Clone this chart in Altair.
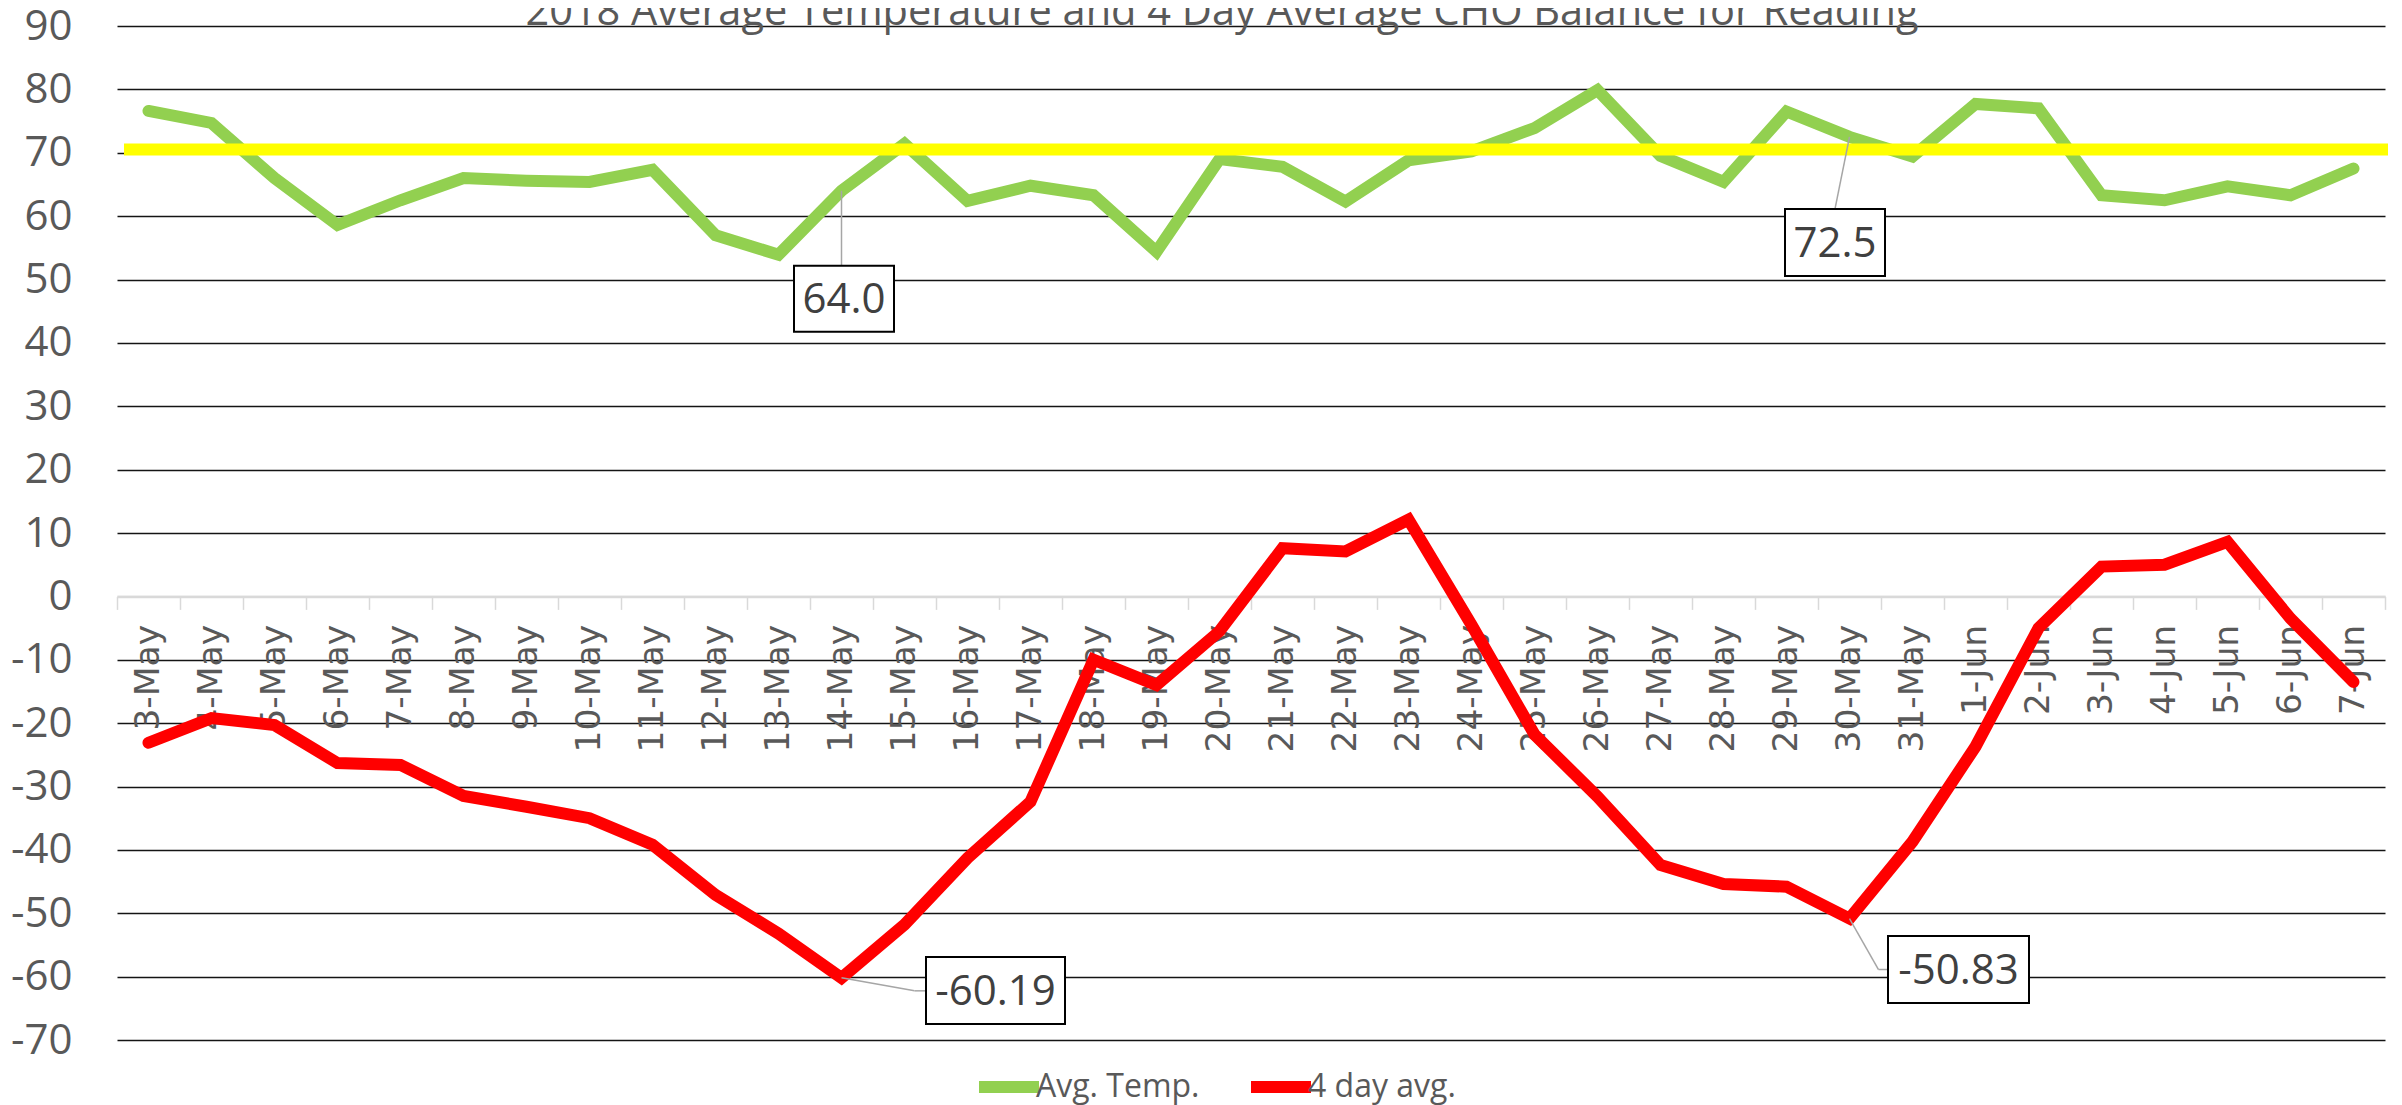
import json
import altair as alt
import pandas as pd

categories = ["3-May", "4-May", "5-May", "6-May", "7-May", "8-May", "9-May", "10-May",
              "11-May", "12-May", "13-May", "14-May", "15-May", "16-May", "17-May", "18-May",
              "19-May", "20-May", "21-May", "22-May", "23-May", "24-May", "25-May", "26-May",
              "27-May", "28-May", "29-May", "30-May", "31-May", "1-Jun", "2-Jun", "3-Jun",
              "4-Jun", "5-Jun", "6-Jun", "7-Jun"]
avg_temp = [76.6, 74.7, 66.0, 58.6, 62.5, 66.0, 65.6, 65.4, 67.3, 57.0, 53.9, 64.0,
            71.4, 62.4, 64.8, 63.3, 54.4, 69.0, 67.8, 62.3, 68.8, 70.2, 73.9, 79.9,
            69.5, 65.4, 76.5, 72.5, 69.4, 77.7, 77.0, 63.3, 62.5, 64.7, 63.3, 67.5]
cho_4day = [-23.1, -19.2, -20.3, -26.3, -26.6, -31.5, -33.2, -35.0, -39.2, -47.1, -53.2, -60.19,
            -51.8, -41.3, -32.4, -10.0, -14.0, -5.5, 7.6, 7.1, 12.1, -4.5, -21.8, -31.6,
            -42.4, -45.4, -45.8, -50.83, -38.7, -23.7, -5.0, 4.7, 5.0, 8.6, -3.5, -13.5]
series_names = ["Avg. Temp.", "4 day avg."]
series_colors = ["#92D050", "#FF0000"]
reference_level = 70.5
y_ticks = list(range(-70, 91, 10))
title_text = "2018 Average Temperature and 4 Day Average CHO Balance for Reading"

ann_labels = ["64.0", "72.5", "-60.19", "-50.83"]
ann_index = [11, 27, 11, 27]
ann_values = [64.0, 72.5, -60.19, -50.83]

# ---- layout / style (pixels) ----
W, H = 2268, 1014
n = len(categories)
step = W / n
ann_style = [
    {"box": (2.5, 108, 100, 66), "leaders": [((0, 0), (0, 75))]},
    {"box": (-14.5, 105.6, 100, 67), "leaders": [((0, 0), (-14.5, 72))]},
    {"box": (154, 12.7, 139, 67), "leaders": [((0, 0), (73, 13)), ((73, 13), (84.5, 13))]},
    {"box": (109, 51, 141, 67), "leaders": [((0, 0), (29, 51)), ((29, 51), (38.5, 51))]},
]
FONT = "Open Sans"
GREY = "#595959"

rows = []
for i, c in enumerate(categories):
    rows.append({"i": i, "date": c, "series": series_names[0], "value": avg_temp[i]})
for i, c in enumerate(categories):
    rows.append({"i": i, "date": c, "series": series_names[1], "value": cho_4day[i]})
df = pd.DataFrame(rows)

x_scale = alt.Scale(domain=[-0.5, n - 0.5], nice=False, zero=False)
y_scale = alt.Scale(domain=[min(y_ticks), max(y_ticks)], nice=False, zero=False)

boundaries = [k - 0.5 for k in range(n + 1)]
label_expr = json.dumps(categories) + "[round(datum.value + 0.5)] || ''"
y_zero_px = H * max(y_ticks) / (max(y_ticks) - min(y_ticks))

x_axis = alt.Axis(
    values=boundaries, labelExpr=label_expr, labelOffset=step / 2, labelAngle=270,
    labelFont="DejaVu Sans", labelFontSize=34.5, labelColor=GREY, labelPadding=15,
    labelOverlap=False, labelBound=False, labelFlush=False,
    domainColor="#D9D9D9", domainWidth=2.5, tickColor="#D9D9D9", tickWidth=1.5,
    tickSize=13, grid=False, offset=-(H - y_zero_px), title=None,
)
y_axis = alt.Axis(
    values=y_ticks, labelExpr="datum.value + ''", labelFont=FONT, labelFontSize=42,
    labelColor=GREY, labelPadding=45,
    ticks=False, domain=False, grid=True, gridWidth=1.4,
    gridColor={"condition": {"test": "datum.value === 0", "value": "#D9D9D9"}, "value": "#141414"},
    title=None,
)

X = alt.X("i:Q", scale=x_scale, axis=x_axis, title=None)
Y = alt.Y("value:Q", scale=y_scale, axis=y_axis, title=None)

lines = alt.Chart(df).mark_line(strokeWidth=12, strokeCap="round", strokeJoin="miter").encode(
    x=X, y=Y,
    color=alt.Color("series:N", scale=alt.Scale(domain=series_names, range=series_colors),
                    sort=series_names,
                    legend=alt.Legend(orient="none", legendX=856, legendY=1025, direction="horizontal",
                                      symbolType="stroke", symbolSize=3600, symbolStrokeWidth=12,
                                      labelFont=FONT, labelFontSize=32, labelColor=GREY,
                                      labelLimit=500, labelOffset={"expr": "-9"}, columnPadding=27,
                                      padding=0, title=None)),
    order=alt.Order("i:Q"),
)

ref_line = alt.Chart(pd.DataFrame({"level": [reference_level]})).mark_rule(
    color="#FFFF00", strokeWidth=12, xOffset=7, x2Offset=3
).encode(
    x=alt.datum(-0.5, scale=x_scale), x2=alt.datum(n - 0.5), y=alt.Y("level:Q", scale=y_scale, title=None)
)

layers = [lines, ref_line]

for k in range(len(ann_labels)):
    a = pd.DataFrame({"i": [ann_index[k]], "value": [ann_values[k]], "label": [ann_labels[k]]})
    base = alt.Chart(a)
    st = ann_style[k]
    for (p0, p1) in st["leaders"]:
        layers.append(base.mark_rule(color="#A6A6A6", strokeWidth=1.5,
                                     xOffset=p0[0], yOffset=p0[1], x2Offset=p1[0], y2Offset=p1[1]).encode(
            x=alt.X("i:Q", scale=x_scale, title=None), y=alt.Y("value:Q", scale=y_scale, title=None),
            x2="i:Q", y2="value:Q"))
    bx, by, bw, bh = st["box"]
    r = bh / bw
    path = f"M-1,{-r:.4f}L1,{-r:.4f}L1,{r:.4f}L-1,{r:.4f}Z"
    layers.append(base.mark_point(shape=path, size=bw * bw, filled=True, fill="white",
                                  stroke="black", strokeWidth=2, opacity=1, fillOpacity=1,
                                  strokeOpacity=1, xOffset=bx, yOffset=by).encode(
        x=alt.X("i:Q", scale=x_scale, title=None), y=alt.Y("value:Q", scale=y_scale, title=None)))
    layers.append(base.mark_text(font=FONT, fontSize=42, color="#404040", align="center",
                                 baseline="middle", dx=bx, dy=by + 1).encode(
        x=alt.X("i:Q", scale=x_scale, title=None), y=alt.Y("value:Q", scale=y_scale, title=None),
        text="label:N"))

title = alt.Chart(pd.DataFrame({"t": [title_text]})).mark_text(
    font=FONT, fontSize=41.5, color=GREY, align="center", baseline="alphabetic"
).encode(x=alt.value(1105), y=alt.value(-1), text="t:N")
layers.append(title)

chart = alt.layer(*layers).properties(
    width=W, height=H,
    autosize=alt.AutoSizeParams(type="none"),
    padding={"left": 109, "top": 18, "right": 8, "bottom": 65},
    background="white",
).configure_view(strokeWidth=0)

chart.save("out.html", embed_options={"renderer": "svg", "actions": False})
